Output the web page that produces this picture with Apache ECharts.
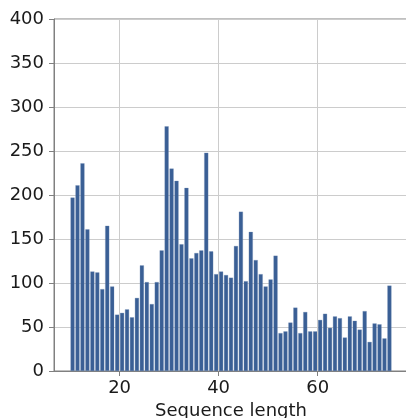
<!DOCTYPE html>
<html>
<head>
<meta charset="utf-8">
<script src="https://cdn.jsdelivr.net/npm/echarts@6/dist/echarts.min.js"></script>
<style>
html,body{margin:0;padding:0;background:#fff;}
#chart{width:406px;height:418px;}
</style>
</head>
<body>
<div id="chart"></div>
<script>
// Sequence lengths (bin start, each bin is one unit wide)
var lengths = [10,11,12,13,14,15,16,17,18,19,20,21,22,23,24,25,26,27,28,29,30,31,32,33,34,35,36,37,38,39,40,41,42,43,44,45,46,47,48,49,50,51,52,53,54,55,56,57,58,59,60,61,62,63,64,65,66,67,68,69,70,71,72,73,74];
var counts = [197,211,236,161,113,112,93,165,96,64,66,70,61,83,120,101,76,101,137,278,230,216,144,208,128,134,137,248,136,110,113,109,106,142,181,102,158,126,110,96,104,131,43,45,55,72,43,67,45,45,58,65,49,62,60,38,62,57,47,68,33,54,53,37,97];
var xTicks = [20,40,60];
var yTicks = [0,50,100,150,200,250,300,350,400];

var data = lengths.map(function(l,i){return [l+0.5, counts[i]];});
var chart = echarts.init(document.getElementById('chart'), null, {renderer:'canvas'});
var font = 'DejaVu Sans';
chart.setOption({
  animation:false,
  backgroundColor:'#fff',
  grid:{left:54,top:19,right:-2,bottom:47,show:true,borderColor:'#808080',borderWidth:1,backgroundColor:'transparent',
        containLabel:false,outerBoundsMode:'none'},
  xAxis:{
    type:'value', min:6.75, max:78.25,
    name:'Sequence length', nameLocation:'middle', nameGap:30,
    nameTextStyle:{fontFamily:font,fontSize:18,color:'#1a1a1a'},
    axisLine:{show:true,onZero:false,lineStyle:{color:'#808080',width:1}},
    axisTick:{show:true,customValues:xTicks,length:5,lineStyle:{color:'#808080'}},
    axisLabel:{customValues:xTicks,fontFamily:font,fontSize:18,color:'#1a1a1a',margin:8},
    splitLine:{show:false}
  },
  yAxis:{
    type:'value', min:0, max:400, interval:50,
    axisLine:{show:true,lineStyle:{color:'#808080',width:1}},
    axisTick:{show:true,length:5,lineStyle:{color:'#808080'}},
    axisLabel:{fontFamily:font,fontSize:18,color:'#1a1a1a',margin:10},
    splitLine:{show:true,lineStyle:{color:'#cccccc',width:1}}
  },
  series:[
    {type:'line',data:[],z:1,silent:true,
     markLine:{symbol:'none',silent:true,label:{show:false},animation:false,
       lineStyle:{color:'#cccccc',width:1,type:'solid'},
       data:xTicks.map(function(v){return {xAxis:v};})}},
    {type:'bar',data:data,barWidth:4,z:3,
     itemStyle:{color:'#3a5f95',borderColor:'#6f8cb5',borderWidth:0.3}}
  ]
});
</script>
</body>
</html>
